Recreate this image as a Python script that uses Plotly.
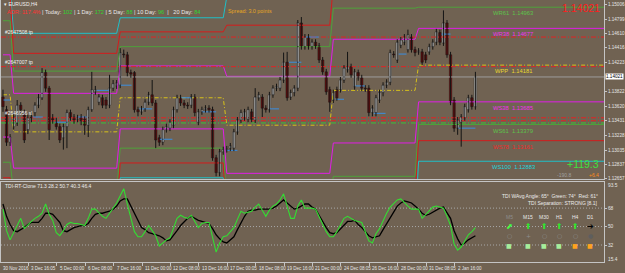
import plotly.graph_objects as go

# ---------------- data ----------------
opens = [1.1375,1.1358,1.1314,1.1335,1.1340,1.1364,1.1351,1.1331,1.1348,1.1354,
         1.1364,1.1374,1.1408,1.1387,1.1347,1.1341,1.1335,1.1320,1.1335,1.1354,
         1.1348,1.1345,1.1348,1.1345,1.1337,1.1358,1.1382,1.1368,1.1374,1.1371,
         1.1364,1.1387,1.1390,1.1391,1.1433,1.1432,1.1408,1.1408,1.1358,1.1355,
         1.1359,1.1368,1.1378,1.1367,1.1320,1.1314,1.1331,1.1333,1.1337,1.1358,
         1.1374,1.1367,1.1364,1.1364,1.1375,1.1341,1.1355,1.1358,1.1360,1.1358,
         1.1293,1.1273,1.1301,1.1304,1.1306,1.1306,1.1328,1.1344,1.1347,1.1345,
         1.1355,1.1344,1.1374,1.1375,1.1360,1.1358,1.1378,1.1387,1.1387,1.1398,
         1.1422,1.1375,1.1381,1.1387,1.1475,1.1443,1.1456,1.1443,1.1449,1.1444,
         1.1425,1.1409,1.1385,1.1371,1.1385,1.1385,1.1398,1.1412,1.1416,1.1389,
         1.1408,1.1401,1.1387,1.1387,1.1354,1.1354,1.1371,1.1381,1.1391,1.1395,
         1.1433,1.1425,1.1445,1.1449,1.1439,1.1456,1.1439,1.1436,1.1436,1.1432,
         1.1436,1.1443,1.1449,1.1462,1.1448,1.1475,1.1432,1.1371,1.1333,1.1341,
         1.1347,1.1358,1.1374,1.1362]
closes = [1.1362,1.1314,1.1321,1.1348,1.1364,1.1358,1.1317,1.1347,1.1347,1.1364,
          1.1374,1.1408,1.1387,1.1331,1.1344,1.1335,1.1317,1.1335,1.1354,1.1347,
          1.1344,1.1347,1.1343,1.1337,1.1358,1.1385,1.1385,1.1375,1.1364,1.1364,
          1.1387,1.1393,1.1394,1.1435,1.1432,1.1408,1.1406,1.1358,1.1355,1.1359,
          1.1368,1.1378,1.1367,1.1317,1.1314,1.1331,1.1335,1.1341,1.1358,1.1374,
          1.1367,1.1364,1.1363,1.1375,1.1354,1.1355,1.1358,1.1360,1.1358,1.1293,
          1.1273,1.1301,1.1304,1.1305,1.1309,1.1328,1.1344,1.1354,1.1355,1.1358,
          1.1345,1.1375,1.1378,1.1360,1.1358,1.1378,1.1387,1.1389,1.1398,1.1422,
          1.1374,1.1381,1.1387,1.1475,1.1443,1.1456,1.1443,1.1449,1.1444,1.1425,
          1.1409,1.1382,1.1368,1.1381,1.1374,1.1398,1.1414,1.1416,1.1405,1.1409,
          1.1401,1.1387,1.1386,1.1354,1.1360,1.1374,1.1381,1.1391,1.1395,1.1435,
          1.1432,1.1449,1.1452,1.1456,1.1459,1.1439,1.1435,1.1437,1.1422,1.1425,
          1.1443,1.1449,1.1463,1.1449,1.1475,1.1432,1.1368,1.1333,1.1344,1.1348,
          1.1362,1.1374,1.1362,1.14021]
highs = [1.1385,1.1363,1.1325,1.1354,1.1371,1.1368,1.1358,1.1351,1.1354,1.1368,
         1.1379,1.1414,1.1412,1.1390,1.1352,1.1347,1.1339,1.1339,1.1358,1.1358,
         1.1352,1.1351,1.1352,1.1349,1.1362,1.1409,1.1390,1.1379,1.1378,1.1375,
         1.1405,1.1398,1.1398,1.1441,1.1439,1.1436,1.1412,1.1410,1.1362,1.1363,
         1.1372,1.1382,1.1398,1.1371,1.1324,1.1335,1.1339,1.1345,1.1362,1.1378,
         1.1378,1.1371,1.1368,1.1379,1.1379,1.1359,1.1362,1.1364,1.1364,1.1362,
         1.1297,1.1305,1.1308,1.1309,1.1313,1.1332,1.1348,1.1358,1.1359,1.1362,
         1.1359,1.1387,1.1382,1.1379,1.1364,1.1382,1.1391,1.1393,1.1402,1.1435,
         1.1436,1.1385,1.1391,1.1479,1.1483,1.1460,1.1460,1.1453,1.1453,1.1448,
         1.1429,1.1413,1.1389,1.1385,1.1389,1.1402,1.1418,1.1436,1.1420,1.1413,
         1.1412,1.1405,1.1391,1.1391,1.1364,1.1378,1.1385,1.1395,1.1399,1.1439,
         1.1437,1.1453,1.1456,1.1460,1.1466,1.1460,1.1443,1.1441,1.1440,1.1436,
         1.1447,1.1453,1.1467,1.1466,1.1492,1.1479,1.1436,1.1375,1.1348,1.1352,
         1.1366,1.1378,1.1378,1.1409]
lows = [1.1355,1.1309,1.1309,1.1331,1.1336,1.1352,1.1313,1.1325,1.1341,1.1349,
        1.1360,1.1371,1.1382,1.1317,1.1339,1.1331,1.1313,1.1304,1.1306,1.1343,
        1.1339,1.1341,1.1337,1.1324,1.1321,1.1355,1.1378,1.1364,1.1360,1.1359,
        1.1360,1.1383,1.1386,1.1387,1.1428,1.1403,1.1401,1.1354,1.1349,1.1351,
        1.1355,1.1364,1.1363,1.1306,1.1309,1.1310,1.1327,1.1329,1.1333,1.1354,
        1.1363,1.1360,1.1359,1.1360,1.1349,1.1337,1.1351,1.1354,1.1354,1.1289,
        1.1268,1.1268,1.1297,1.1300,1.1302,1.1302,1.1324,1.1340,1.1343,1.1341,
        1.1341,1.1340,1.1370,1.1348,1.1354,1.1354,1.1374,1.1383,1.1383,1.1394,
        1.1370,1.1371,1.1376,1.1383,1.1439,1.1439,1.1439,1.1439,1.1440,1.1421,
        1.1405,1.1378,1.1355,1.1367,1.1370,1.1381,1.1394,1.1408,1.1401,1.1385,
        1.1397,1.1383,1.1382,1.1349,1.1349,1.1349,1.1367,1.1376,1.1387,1.1391,
        1.1428,1.1421,1.1441,1.1445,1.1435,1.1435,1.1430,1.1432,1.1418,1.1421,
        1.1432,1.1439,1.1445,1.1445,1.1444,1.1428,1.1364,1.1328,1.1324,1.1308,
        1.1343,1.1354,1.1358,1.1358]

tdi_green = [67,46,37,44,52,58,48,52,55,58,60,63,72,62,56,44,41,46,52,54,
             53,53,52,51,58,67,67,63,60,58,63,68,73,80,87,72,58,45,40,40,
             45,51,46,41,31,34,37,39,48,58,61,59,58,61,55,49,53,54,54,38,
             25,34,40,41,45,49,57,65,63,64,65,69,72,66,60,66,70,72,76,82,
             70,58,58,70,76,68,68,68,67,60,52,45,40,40,45,52,58,60,58,56,
             55,54,45,36,34,43,48,56,63,69,73,76,77,73,70,67,67,67,58,62,
             66,69,70,69,68,60,51,33,27,30,36,42,45,49]
tdi_black = [72,60,52,46,45,47,49,52,54,54,54,58,63,63,62,58,54,46,45,47,
             49,50,51,51,53,58,62,63,63,64,65,67,70,75,77,77,70,62,55,49,
             47,44,43,42,41,39,36,37,41,46,51,55,58,60,58,56,55,54,53,48,
             42,38,35,34,37,40,47,54,60,65,66,66,67,67,67,67,68,70,73,76,
             73,70,67,68,70,72,72,69,67,61,54,49,44,43,44,48,52,55,55,56,
             52,49,45,41,39,40,41,47,53,58,64,70,73,75,74,73,70,67,63,61,
             62,64,66,68,69,63,58,46,38,32,34,37,39,41]
tdi_levels = [68, 50, 32]

# weekly Fibonacci pivot levels, one value per week (week start bars below)
week_starts = [0, 3, 33, 63, 93, 117]
level_names = ["WR100", "WR78", "WR61", "WR38", "WPP", "WS38", "WS61", "WS78", "WS100"]
level_values = {
    "WR100": [1.1522, 1.1461, 1.1482, 1.1510, 1.1533, 1.1544],
    "WR78":  [1.1513, 1.1434, 1.1463, 1.1472, 1.1526, 1.1517],
    "WR61":  [1.1478, 1.1410, 1.1443, 1.1443, 1.1495, 1.14963],
    "WR38":  [1.1432, 1.1380, 1.1417, 1.1403, 1.1453, 1.14677],
    "WPP":   [1.1378, 1.1328, 1.1374, 1.1337, 1.1384, 1.14181],
    "WS38":  [1.1321, 1.1279, 1.1332, 1.1272, 1.1313, 1.13685],
    "WS61":  [1.1287, 1.1247, 1.1306, 1.1231, 1.1268, 1.13379],
    "WS78":  [1.1266, 1.1220, 1.1286, 1.1202, 1.1240, 1.13161],
    "WS100": [1.1236, 1.1182, 1.1266, 1.1162, 1.1202, 1.12883],
}
level_colors = {"WR100": "#1fc0c8", "WR78": "#d41c1c", "WR61": "#4ea23a", "WR38": "#e01ee6",
                "WPP": "#d8c21a", "WS38": "#e01ee6", "WS61": "#4ea23a", "WS78": "#d41c1c",
                "WS100": "#1fc0c8"}
label_text_colors = {"WR61": "#5cc24a", "WR38": "#ee30ee", "WPP": "#e8d830", "WS38": "#ee30ee",
                     "WS61": "#5cc24a", "WS78": "#ee2a2a", "WS100": "#22d4dc"}
labelled_levels = ["WR61", "WR38", "WPP", "WS38", "WS61", "WS78", "WS100"]

# pending-order lines (dash-dot) and their tags
order_prices = [1.1456, 1.1416, 1.1347, 1.1343, 1.1340]
order_colors = ["#e02424", "#e02424", "#e02424", "#e02424", "#3cc03c"]
order_tags = ["#2647508 tp", "#2647007 tp", "#2646956 sl"]
order_tag_prices = [1.1456, 1.1416, 1.1347]

bid_price = 1.14021

# short blue segments (start bar, end bar, price)
seg_start = [0, 8.4, 14.6, 20.8, 26.4, 32.8, 38.4, 44, 50.2, 56, 63.1, 75, 80.5, 85.3, 93.7, 99.3, 104.4, 111.4, 123.5, 128.2]
seg_end   = [2, 11.2, 18.2, 23.6, 30, 36.2, 42, 47.7, 53.3, 60, 66, 77.7, 84, 89, 96, 102, 107.7, 113.6, 126, 133]
seg_price = [1.1371, 1.1348, 1.1341, 1.1348, 1.1384, 1.1391, 1.1359, 1.1318, 1.1374, 1.1355, 1.1303,
             1.1359, 1.1422, 1.1456, 1.1372, 1.1390, 1.1353, 1.1433, 1.1460, 1.1333]

price_ticks = [1.15006, 1.14799, 1.14610, 1.14416, 1.14223, 1.13822, 1.13620, 1.13431,
               1.13228, 1.13035, 1.12837, 1.12657]
price_tick_text = ["1.15006", "1.14799", "1.14610", "1.14416", "1.14223", "1.13822", "1.13620",
                   "1.13431", "1.13228", "1.13035", "1.12837", "1.12657"]

time_labels = ["30 Nov 2016", "3 Dec 16:05", "5 Dec 00:00", "6 Dec 08:00", "7 Dec 16:00",
               "11 Dec 00:00", "12 Dec 08:00", "13 Dec 16:00", "17 Dec 00:05", "18 Dec 08:00",
               "19 Dec 16:00", "21 Dec 00:00", "24 Dec 08:05", "26 Dec 16:00", "28 Dec 00:00",
               "31 Dec 08:05", "2 Jan 16:00"]
time_label_bars = [0, 8, 16, 24, 32, 40, 48, 56, 64, 72, 80, 88, 96, 104, 112, 120, 128]

tf_names = ["M5", "M15", "M30", "H1", "H4", "D1"]
tf_name_colors = ["#8e8e8e", "#e8e8e8", "#e8e8e8", "#e8e8e8", "#e8e8e8", "#e8e8e8"]
tf_arrows = ["⬈", "⬆", "⬆", "⬆", "⬆", "➔"]
tf_arrow_colors = ["#44ff44", "#2ee62e", "#2ee62e", "#2ee62e", "#2ee62e", "#000000"]
tf_dots = ["○", "+", "○", "○", "○", "●"]
tf_dot_colors = ["#8e8e8e", "#8e8e8e", "#8e8e8e", "#8e8e8e", "#8e8e8e", "#5e5e5e"]
tf_boxes = ["■", "■", "■", "■", "■", "■"]
tf_box_colors = ["#a6ee9c", "#a6ee9c", "#a6ee9c", "#a6ee9c", "#ffa21e", "#ffa21e"]

# ---------------- layout geometry ----------------
W, H = 625, 273
ML, MR, MT, MB = 1, 19, 0, 11
PW, PH = W - ML - MR, H - MT - MB
MAIN_BOTTOM_PX, IND_TOP_PX = 179, 182
main_dom = [(PH - MAIN_BOTTOM_PX) / PH, 1.0]
ind_dom = [0.0, (PH - IND_TOP_PX) / PH]
X_RANGE = [-0.56, 169.2]
Y_RANGE = [1.126435, 1.1506]
Y2_RANGE = [15.4, 93.5]

BG = "#706252"
FRAME = "#c4c4c4"
FONT = "Liberation Sans"


def px_x(px):
    return (px - ML) / PW


def px_y(py):
    return (H - MB - py) / PH


N = len(closes)
bars = list(range(N))

fig = go.Figure()


def week_of(i):
    w = 0
    for k, s in enumerate(week_starts):
        if i >= s:
            w = k
    return w


for name in level_names:
    vals = level_values[name]
    xs = bars + [X_RANGE[1]]
    ys = [vals[week_of(i)] for i in bars] + [vals[-1]]
    dash = "4px,2px,1px,2px" if name == "WPP" else "solid"
    fig.add_trace(go.Scatter(x=xs, y=ys, mode="lines", line=dict(color=level_colors[name], width=1, dash=dash),
                             hoverinfo="skip", showlegend=False))

for p, c in zip(order_prices, order_colors):
    fig.add_trace(go.Scatter(x=X_RANGE, y=[p, p], mode="lines",
                             line=dict(color=c, width=1, dash="5px,2px,1px,2px"),
                             hoverinfo="skip", showlegend=False))
fig.add_trace(go.Scatter(x=X_RANGE, y=[bid_price, bid_price], mode="lines",
                         line=dict(color="#9c9c9c", width=1), hoverinfo="skip", showlegend=False))

sx, sy = [], []
for a, b, p in zip(seg_start, seg_end, seg_price):
    sx += [a, b, None]
    sy += [p, p, None]
fig.add_trace(go.Scatter(x=sx, y=sy, mode="lines", line=dict(color="#3a8ee0", width=1),
                         hoverinfo="skip", showlegend=False))

wx, wy = [], []
for i in bars:
    wx += [i, i, None]
    wy += [min(lows[i], opens[i], closes[i]), max(highs[i], opens[i], closes[i]), None]
fig.add_trace(go.Scatter(x=wx, y=wy, mode="lines", line=dict(color="#141414", width=1),
                         hoverinfo="skip", showlegend=False))

base = [min(o, c) for o, c in zip(opens, closes)]
hgt = [max(abs(c - o), 0.00004) for o, c in zip(opens, closes)]
cols = ["#ffffff" if c >= o else "#8a0c0c" for o, c in zip(opens, closes)]
fig.add_trace(go.Bar(x=bars, y=hgt, base=base, width=0.66,
                     marker=dict(color=cols, line=dict(color="#101010", width=0.5)),
                     hoverinfo="skip", showlegend=False))

for lv in tdi_levels:
    fig.add_trace(go.Scatter(x=X_RANGE, y=[lv, lv], mode="lines", xaxis="x2", yaxis="y2",
                             line=dict(color="#a8a8a8", width=1, dash="1px,2px"),
                             hoverinfo="skip", showlegend=False))
fig.add_trace(go.Scatter(x=bars, y=tdi_black, mode="lines", xaxis="x2", yaxis="y2",
                         line=dict(color="#000000", width=1.3), hoverinfo="skip", showlegend=False))
fig.add_trace(go.Scatter(x=bars, y=tdi_green, mode="lines", xaxis="x2", yaxis="y2",
                         line=dict(color="#33dd33", width=1.1), hoverinfo="skip", showlegend=False))

ann = []


def text_at(text, px, py, size, color, xanchor="left", **kw):
    ann.append(dict(text=text, x=px_x(px), y=px_y(py), xref="paper", yref="paper",
                    xanchor=xanchor, yanchor="middle", showarrow=False,
                    font=dict(family=kw.pop("family", FONT), size=size, color=color), **kw))


G = "#2fd42f"
NB = "\u00a0"
hdr = ("<span style='color:#ff3434'>ADR: 117.4%</span> | Today: <span style='color:" + G + "'>102</span>"
       " | 1 Day: <span style='color:" + G + "'>172</span> | 5 Day: <span style='color:" + G + "'>88</span>"
       " | 10 Day: <span style='color:" + G + "'>96</span>" + NB + NB + "|" + NB + NB
       + " 20 Day: <span style='color:" + G + "'>84</span>")
text_at(hdr, 5, 12, 5.6, "#e8e8e8")
text_at("▾ EURUSD,H4", 2, 4, 5, "#f0f0f0")
text_at("Spread: 3.0 points", 227, 11, 5.4, "#e4a622")
text_at("1.14021", 604, 8, 10.5, "#ff1c1c", xanchor="right")
text_at("+119.3", 603, 164, 10.5, "#3ee03e", xanchor="right")
text_at("-190.8", 557, 175, 5, "#a0a0a0")
text_at("+6.4", 603, 175, 5, "#ff8c1a", xanchor="right")
text_at("TDI-RT-Clone 71.3 28.2 50.7 40.3 46.4", 3, 186, 5, "#ececec")
text_at("TDI WAvg Angle: 65°" + NB + NB + "Green: 74°" + NB + NB + "Red: 61°", 602, 196, 5, "#ececec", xanchor="right")
text_at("TDI Separation: STRONG [8.1]", 602, 203, 5, "#ececec", xanchor="right")

tf_x = [511, 530, 546, 561, 577, 592]
for k in range(len(tf_names)):
    text_at(tf_names[k], tf_x[k], 217, 5, tf_name_colors[k], xanchor="center")
    text_at(tf_arrows[k], tf_x[k], 226, 8, tf_arrow_colors[k], xanchor="center", family="DejaVu Sans")
    text_at(tf_dots[k], tf_x[k], 235, 6, tf_dot_colors[k], xanchor="center", family="DejaVu Sans")
    text_at(tf_boxes[k], tf_x[k], 245, 6, tf_box_colors[k], xanchor="center", family="DejaVu Sans")

text_at("93.5", 608, 185, 4.8, "#e6e6e6")
text_at("15.4", 608, 259, 4.8, "#e6e6e6")
ann.append(dict(text="1.14021", x=px_x(607), y=bid_price, xref="paper", yref="y", xanchor="left",
                yanchor="middle", showarrow=False, bgcolor="#ffffff", borderpad=0,
                font=dict(family=FONT, size=4.6, color="#000000")))

for name in labelled_levels:
    p = level_values[name][-1]
    ann.append(dict(text="%s%s%s%.5f" % (name, NB, NB, p), x=143.7, y=p, xref="x", yref="y",
                    xanchor="center", yanchor="top", yshift=-1, showarrow=False,
                    font=dict(family=FONT, size=5.8, color=label_text_colors[name])))

for t, p in zip(order_tags, order_tag_prices):
    ann.append(dict(text=t, x=px_x(3), y=p, xref="paper", yref="y", xanchor="left", yanchor="bottom",
                    yshift=0, showarrow=False, font=dict(family=FONT, size=5, color="#f2f2f2")))

for t, b in zip(time_labels, time_label_bars):
    ann.append(dict(text=t, x=max(b - 0.6, -0.45), y=px_y(268.5), xref="x2", yref="paper", xanchor="left",
                    yanchor="middle", showarrow=False, font=dict(family=FONT, size=4.5, color="#e6e6e6")))

fig.update_layout(
    width=W, height=H, margin=dict(l=ML, r=MR, t=MT, b=MB),
    paper_bgcolor=BG, plot_bgcolor=BG, barmode="overlay", showlegend=False,
    font=dict(family=FONT, size=5, color="#e6e6e6"),
    xaxis=dict(domain=[0, 1], range=X_RANGE, anchor="y", showgrid=False, zeroline=False,
               showticklabels=False, ticks="", showline=True, linecolor=FRAME, linewidth=1),
    yaxis=dict(domain=main_dom, range=Y_RANGE, anchor="x", side="right", showgrid=False, zeroline=False,
               tickvals=price_ticks, ticktext=price_tick_text, ticks="outside", ticklen=2, tickcolor=FRAME,
               tickfont=dict(size=4.6, color="#e6e6e6"), showline=True, mirror=True, linecolor=FRAME,
               linewidth=1),
    xaxis2=dict(domain=[0, 1], range=X_RANGE, anchor="y2", showgrid=False, zeroline=False,
                tickvals=[b - 0.85 for b in time_label_bars[1:]], ticks="outside", ticklen=3, tickcolor=FRAME,
                showticklabels=False, showline=True, mirror=True, linecolor=FRAME, linewidth=1),
    yaxis2=dict(domain=ind_dom, range=Y2_RANGE, anchor="x2", side="right", showgrid=False, zeroline=False,
                tickvals=tdi_levels, ticktext=[str(v) for v in tdi_levels], ticks="outside", ticklen=2,
                tickcolor=FRAME, tickfont=dict(size=4.8, color="#e6e6e6"), showline=True, mirror=True,
                linecolor=FRAME, linewidth=1),
    annotations=ann,
)

fig.write_html("out.html")
